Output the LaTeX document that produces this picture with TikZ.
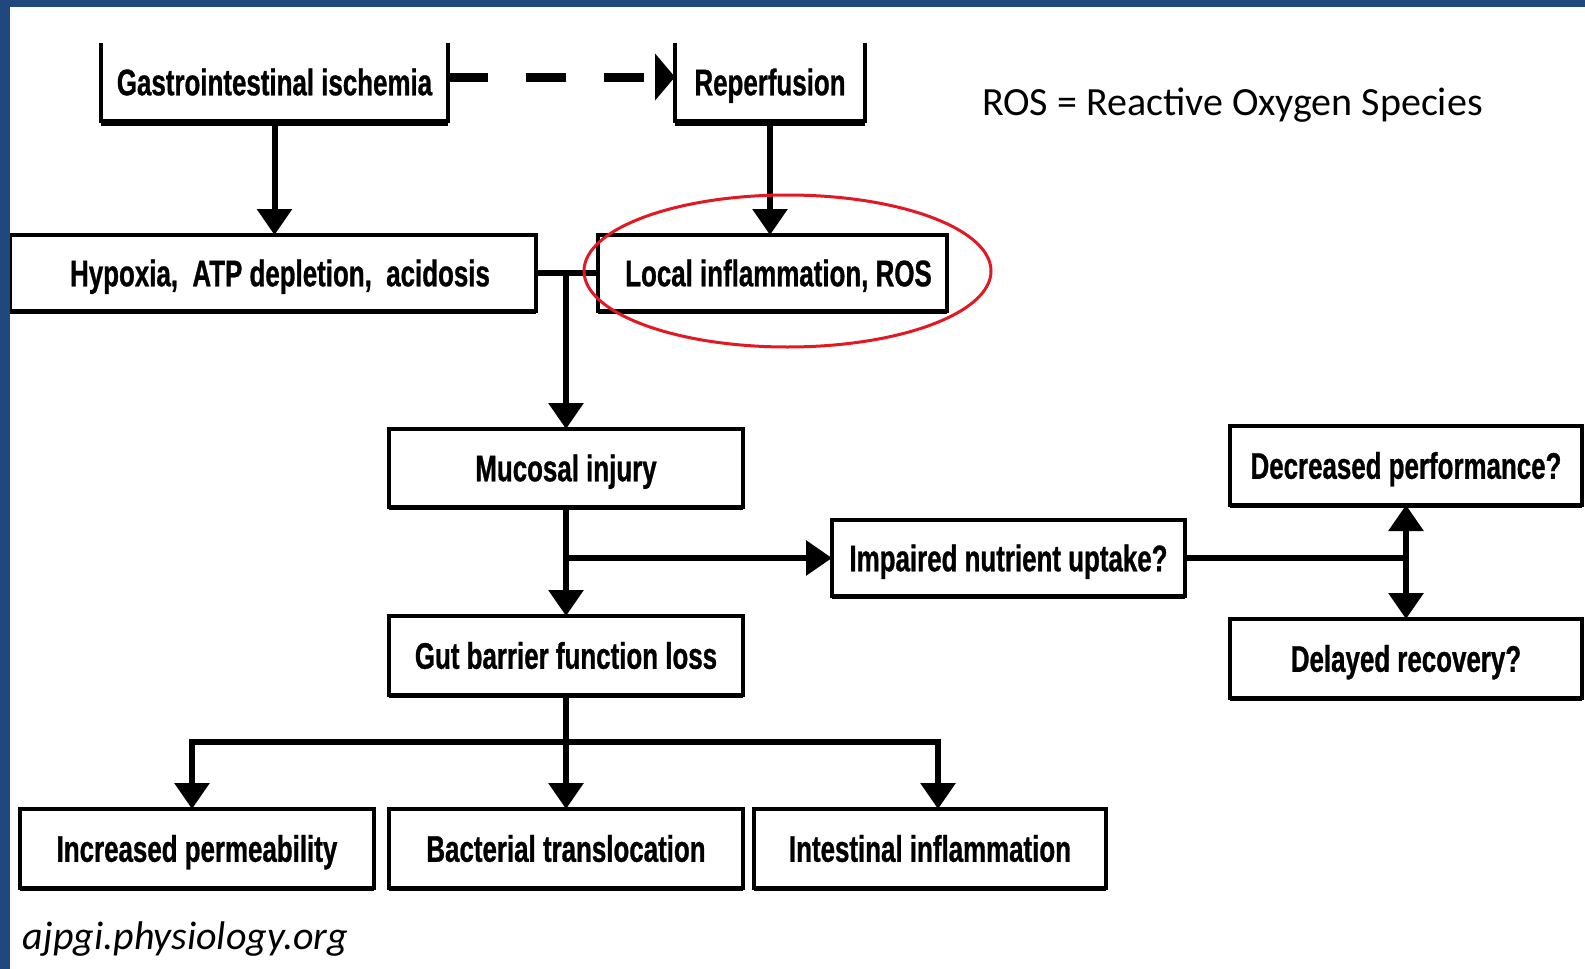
\documentclass[tikz,border=0pt]{standalone}
\usepackage{fontspec}
\usetikzlibrary{arrows.meta,shadows,shapes.geometric}
\newfontfamily\boxfont[FakeStretch=0.70,FakeBold=0.8]{Liberation Sans}
\newfontfamily\calfont{Carlito}
\definecolor{frameblue}{RGB}{31,73,125}
\definecolor{ovalred}{RGB}{225,25,35}
\tikzset{
  bx/.style={draw=black, fill=white, line width=4.5pt, inner sep=0pt, outer sep=0pt,
    font=\boxfont\bfseries\fontsize{37}{44}\selectfont, text height=26.5pt, text depth=0pt,
    general shadow={shadow yshift=-3pt, fill=black}},
  openbx/.style={inner sep=0pt, outer sep=0pt, text height=26.5pt, text depth=0pt,
    font=\boxfont\bfseries\fontsize{37}{44}\selectfont},
  openline/.style={line width=4.5pt},
  conn/.style={line width=6pt},
  arr/.style={conn, -{Triangle[width=34pt,length=26pt]}},
  dasharr/.style={line width=9pt, dash pattern=on 40pt off 38pt, -{Triangle[width=46pt,length=20pt]}},
  oval/.style={draw=ovalred, line width=3pt},
  note/.style={inner sep=0pt, outer sep=0pt, font=\calfont\fontsize{40}{46}\selectfont},
}
\begin{document}
\begin{tikzpicture}[x=1pt,y=-1pt]
\useasboundingbox (0,0) rectangle (1585,969);
\fill[white] (0,0) rectangle (1585,969);

% open-top boxes
\node[openbx, minimum width=347pt, minimum height=78pt] (g) at (274.5,82) {Gastrointestinal ischemia};
\node[openbx, minimum width=190pt, minimum height=78pt] (rp) at (770,82) {Reperfusion};
\draw[openline] (g.north west) -- (g.south west) -- (g.south east) -- (g.north east);
\draw[openline] (rp.north west) -- (rp.south west) -- (rp.south east) -- (rp.north east);
\draw[line width=3pt] ([yshift=-3pt]g.south west) -- ([yshift=-3pt]g.south east);
\draw[line width=3pt] ([yshift=-3pt]rp.south west) -- ([yshift=-3pt]rp.south east);

% boxes
\node[bx, minimum width=526pt, minimum height=76pt] (hy) at (273,273) {\hspace*{14pt}Hypoxia,\ \ ATP depletion,\ \ acidosis};
\node[bx, minimum width=349pt, minimum height=76pt] (lo) at (772.5,273) {\hspace*{12pt}Local inflammation, ROS};
\node[bx, minimum width=354pt, minimum height=78pt] (mu) at (566,468) {Mucosal injury};
\node[bx, minimum width=354pt, minimum height=79pt] (gu) at (566,655.5) {Gut barrier function loss};
\node[bx, minimum width=353pt, minimum height=76pt] (im) at (1008.5,558) {Impaired nutrient uptake?};
\node[bx, minimum width=352pt, minimum height=79pt] (de) at (1406,465.5) {Decreased performance?};
\node[bx, minimum width=352pt, minimum height=79pt] (dl) at (1406,658.5) {Delayed recovery?};
\node[bx, minimum width=354pt, minimum height=79pt] (ip) at (197,848.5) {Increased permeability};
\node[bx, minimum width=354pt, minimum height=79pt] (ba) at (566,848.5) {Bacterial translocation};
\node[bx, minimum width=352pt, minimum height=79pt] (it) at (930,848.5) {Intestinal inflammation};

% connectors
\draw[dasharr] ([yshift=5pt]g.east) -- ([yshift=5pt]rp.west);
\draw[arr] (g.south) -- (g.south |- hy.north);
\draw[arr] (rp.south) -- (rp.south |- lo.north);
\coordinate (j1) at (mu.north |- hy.east);
\draw[conn] (hy.east) -- (lo.west);
\draw[arr] (j1) -- (mu.north);
\draw[arr] (mu.south) -- (gu.north);
\coordinate (j2) at (mu.south |- im.west);
\draw[arr] (j2) -- (im.west);
\coordinate (j3) at (de.south |- im.east);
\draw[conn] (im.east) -- (j3);
\draw[arr] (j3) -- (de.south);
\draw[arr] (j3) -- (dl.north);
\coordinate (b0) at (gu.south |- 0,742);
\coordinate (bl) at (192,742);
\coordinate (br) at (938,742);
\draw[conn] (gu.south) -- (b0);
\draw[conn] ([xshift=-3pt]bl) -- ([xshift=3pt]br);
\draw[arr] (bl) -- (bl |- ip.north);
\draw[arr] (b0) -- (ba.north);
\draw[arr] (br) -- (br |- it.north);

% red oval
\node[oval, ellipse, minimum width=407pt, minimum height=152pt, inner sep=0pt] (ov) at (787.5,271) {};

% notes
\node[note, anchor=base west] (ros) at (982,115) {ROS = Reactive Oxygen Species};
\node[note, anchor=base west, font=\calfont\itshape\fontsize{40}{46}\selectfont] (src) at (23,949) {ajpgi.physiology.org};

% frame
\fill[frameblue] (0,0) rectangle (1585,7);
\fill[frameblue] (0,0) rectangle (10,969);
\end{tikzpicture}
\end{document}
